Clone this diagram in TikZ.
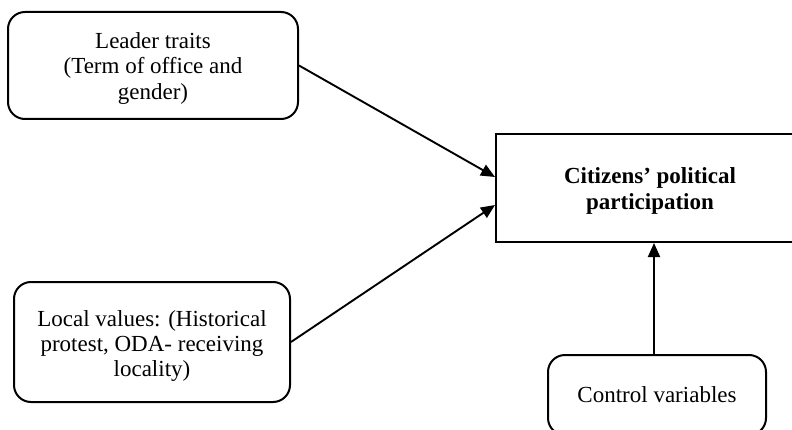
\documentclass[tikz,border=0pt]{standalone}
\usepackage{fontspec}
\setmainfont{Liberation Serif}
\usetikzlibrary{arrows.meta,positioning}
\begin{document}
\begin{tikzpicture}[x=1pt,y=1pt,
  rbox/.style={draw, line width=2pt, rounded corners=17pt, inner sep=0pt},
  sbox/.style={draw, line width=2pt, inner sep=0pt},
  txt/.style={align=center, inner sep=0pt, font=\fontsize{23}{25.5}\selectfont},
  btxt/.style={txt, font=\fontsize{23}{25.5}\selectfont\bfseries},
  arr/.style={-{Triangle[length=14pt,width=12pt]}, line width=1.9pt}]
\useasboundingbox (0,0) rectangle (792,429);
\node[rbox, minimum width=290pt, minimum height=107pt] (lead) at (153,363.5) {};
\node[txt] (leadt) at ([yshift=-3pt]lead.center) {Leader traits\\(Term of office and\\gender)};
\node[sbox, minimum width=308pt, minimum height=108pt] (cit) at (650,241) {};
\node[btxt] (citt) at ([yshift=-3pt]cit.center) {Citizens’ political\\participation};
\node[rbox, minimum width=276pt, minimum height=120pt] (loc) at (152,87) {};
\node[txt] (loct) at ([yshift=-4pt]loc.center) {Local values: (Historical\\protest, ODA- receiving\\locality)};
\node[rbox, minimum width=218pt, minimum height=80pt] (ctrl) at (657,34) {};
\node[txt] (ctrlt) at (ctrl.center) {Control variables};
\draw[arr] (lead.east) -- ([yshift=11pt]cit.west);
\draw[arr] (loc.east) -- ([yshift=-17pt]cit.west);
\draw[arr] ([xshift=-3pt]ctrl.north) -- ([xshift=-3pt]ctrl.north |- cit.south);
\end{tikzpicture}
\end{document}
